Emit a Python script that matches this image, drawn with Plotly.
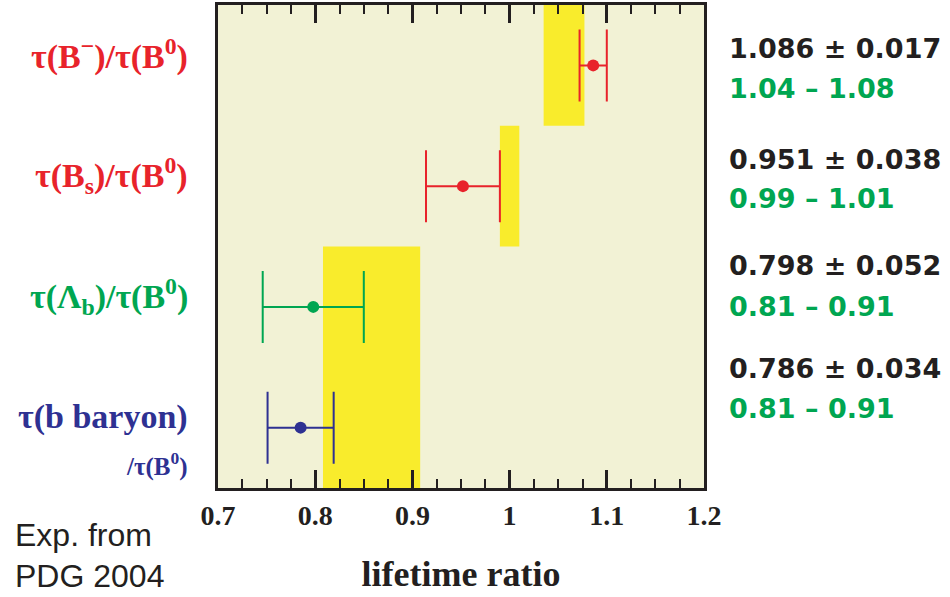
import plotly.graph_objects as go

# ---------------- data ----------------
labels = ["τ(B<sup>−</sup>)/τ(B<sup>0</sup>)", "τ(B<sub>s</sub>)/τ(B<sup>0</sup>)",
          "τ(Λ<sub>b</sub>)/τ(B<sup>0</sup>)", "τ(b baryon)"]
rows = [3.5, 2.5, 1.5, 0.5]
values = [1.086, 0.952, 0.798, 0.785]
errors = [0.014, 0.038, 0.052, 0.034]
# theory bands (Λb and b-baryon share one band 0.81–0.91)
band_lo = [1.035, 0.990, 0.808]
band_hi = [1.077, 1.010, 0.908]
band_row0 = [3, 2, 0]
band_row1 = [4, 3, 2]
exp_text = ["1.086 ± 0.017", "0.951 ± 0.038", "0.798 ± 0.052", "0.786 ± 0.034"]
theory_text = ["1.04 – 1.08", "0.99 – 1.01", "0.81 – 0.91", "0.81 – 0.91"]
tick_vals = [0.7, 0.8, 0.9, 1.0, 1.1, 1.2]
tick_text = ["0.7", "0.8", "0.9", "1", "1.1", "1.2"]

RED = "#e8232b"
GREEN = "#00a651"
BLUE = "#2e3192"
DARK = "#231f20"
YELLOW = "#f9ec2c"
BG = "#f2f2d5"
colors = [RED, RED, GREEN, BLUE]

W, H = 950, 597
L, R, T, B = 218, 246, 2, 109
PW, PH = W - L - R, H - T - B

def px(x):
    return (x - L) / PW

def py(y):
    return 1 - (y - T) / PH

fig = go.Figure()

# yellow theory bands
for lo, hi, r0, r1 in zip(band_lo, band_hi, band_row0, band_row1):
    fig.add_shape(type="rect", xref="x", yref="y", x0=lo, x1=hi, y0=r0, y1=r1,
                  fillcolor=YELLOW, line=dict(width=0), layer="below")

# measurements
for v, e, r, c in zip(values, errors, rows, colors):
    fig.add_trace(go.Scatter(
        x=[v], y=[r], mode="markers",
        marker=dict(color=c, size=12),
        error_x=dict(type="data", array=[e], color=c, thickness=2, width=36),
        showlegend=False, cliponaxis=False))

# left labels
lab_y = [52, 174, 295, 417]
for t, yy, c in zip(labels, lab_y, colors):
    fig.add_annotation(text=t, xref="paper", yref="paper", x=px(190), y=py(yy),
                       xanchor="right", yanchor="middle", showarrow=False,
                       font=dict(family="Liberation Serif", size=34, color=c, weight="bold"))
fig.add_annotation(text="/τ(B<sup>0</sup>)", xref="paper", yref="paper", x=px(190), y=py(464),
                   xanchor="right", yanchor="middle", showarrow=False,
                   font=dict(family="Liberation Serif", size=25, color=BLUE, weight="bold"))

# right values
exp_y = [46, 157, 264, 368]
th_y = [86, 197, 305, 408]
for t, yy in zip(exp_text, exp_y):
    fig.add_annotation(text=t, xref="paper", yref="paper", x=px(727), y=py(yy),
                       xanchor="left", yanchor="middle", showarrow=False,
                       font=dict(family="DejaVu Sans", size=27, color=DARK, weight="bold"))
for t, yy in zip(theory_text, th_y):
    fig.add_annotation(text=t, xref="paper", yref="paper", x=px(727), y=py(yy),
                       xanchor="left", yanchor="middle", showarrow=False,
                       font=dict(family="DejaVu Sans", size=27, color=GREEN, weight="bold"))

# bottom-left note
for t, yy in zip(["Exp. from", "PDG 2004"], [535, 577]):
    fig.add_annotation(text=t, xref="paper", yref="paper", x=px(13), y=py(yy),
                       xanchor="left", yanchor="middle", showarrow=False,
                       font=dict(family="Liberation Sans", size=32, color=DARK))

fig.update_xaxes(range=[0.7, 1.2], tickvals=tick_vals, ticktext=tick_text,
                 ticks="inside", ticklen=18, tickwidth=3, tickcolor=DARK,
                 minor=dict(dtick=0.025, ticks="inside", ticklen=9, tickwidth=2, tickcolor=DARK,
                            showgrid=False),
                 showline=True, linewidth=3, linecolor=DARK, mirror="allticks",
                 showgrid=False, zeroline=False,
                 tickfont=dict(family="Liberation Serif", size=28, color=DARK, weight="bold"),
                 title=dict(text="lifetime ratio", standoff=32,
                            font=dict(family="Liberation Serif", size=36, color=DARK, weight="bold")))
fig.update_yaxes(range=[0, 4], showticklabels=False, ticks="", showgrid=False, zeroline=False,
                 showline=True, linewidth=3, linecolor=DARK, mirror=True)

fig.update_layout(width=W, height=H, margin=dict(l=L, r=R, t=T, b=B),
                  paper_bgcolor="white", plot_bgcolor=BG, showlegend=False)

fig.write_html("out.html")
